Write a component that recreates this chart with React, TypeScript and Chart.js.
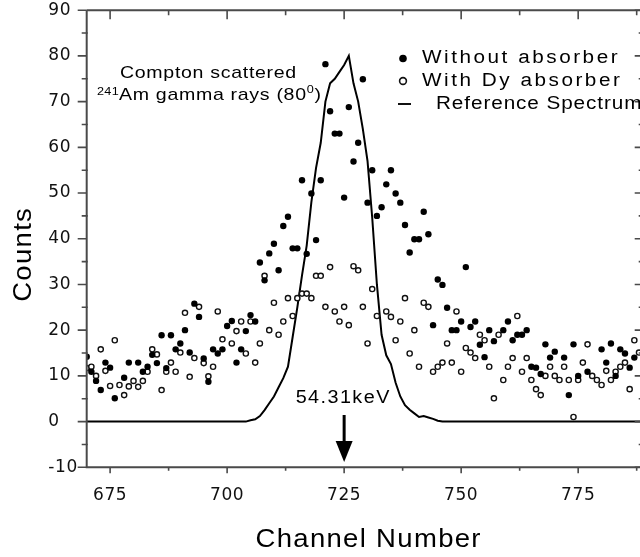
import React, { useEffect, useRef } from 'react';
import { Chart, registerables } from 'chart.js';

Chart.register(...registerables);

// ---- data ----
const withoutChannels = [670, 671, 672, 673, 674, 675, 676, 678, 679, 681, 682, 683, 684, 685, 686, 687, 688, 689, 690, 691, 692, 693, 694, 695, 696, 697, 698, 699, 700, 701, 702, 703, 704, 705, 706, 707, 708, 709, 710, 711, 712, 713, 714, 715, 716, 717, 718, 719, 720, 721, 722, 723, 724, 725, 726, 727, 728, 729, 730, 731, 732, 733, 734, 735, 736, 737, 738, 739, 740, 741, 742, 743, 744, 745, 746, 747, 748, 749, 750, 751, 752, 753, 754, 755, 756, 757, 759, 760, 761, 762, 763, 764, 765, 766, 767, 768, 769, 770, 772, 773, 774, 775, 777, 780, 781, 782, 783, 784, 785, 786, 787];
const withoutCounts = [14.2, 10.9, 8.9, 6.9, 12.9, 11.8, 5.1, 9.6, 12.9, 12.9, 10.9, 12.0, 14.6, 12.8, 18.9, 11.7, 18.9, 15.8, 17.1, 20.0, 15.1, 25.8, 22.9, 13.8, 8.7, 15.8, 14.9, 15.8, 20.9, 22.0, 12.9, 15.8, 19.8, 23.3, 21.9, 34.8, 30.9, 36.8, 38.9, 33.1, 42.8, 44.8, 37.9, 37.9, 52.8, 36.7, 49.9, 39.7, 52.8, 78.2, 67.9, 63.0, 63.0, 49.0, 68.8, 56.9, 61.0, 74.9, 47.9, 55.0, 45.0, 46.9, 51.9, 55.0, 49.9, 47.9, 43.0, 37.0, 39.9, 39.9, 45.9, 41.0, 21.1, 31.1, 29.9, 24.9, 20.0, 20.0, 21.9, 33.8, 20.7, 21.9, 16.8, 14.1, 20.0, 17.6, 20.0, 21.9, 17.8, 19.0, 19.0, 20.0, 12.0, 11.8, 10.4, 16.9, 14.0, 15.3, 14.0, 5.8, 16.9, 10.0, 10.9, 15.8, 12.9, 17.1, 10.0, 15.8, 14.9, 11.8, 14.0];

const withDyChannels = [670, 671, 672, 673, 674, 675, 676, 677, 678, 679, 680, 681, 682, 683, 684, 685, 686, 687, 688, 689, 690, 691, 692, 693, 694, 695, 696, 697, 698, 699, 701, 702, 703, 704, 705, 706, 707, 708, 709, 710, 711, 712, 713, 714, 715, 716, 717, 718, 719, 720, 721, 722, 723, 724, 725, 726, 727, 728, 729, 730, 731, 732, 734, 735, 736, 737, 738, 739, 740, 741, 742, 743, 744, 745, 746, 747, 748, 749, 750, 751, 752, 753, 754, 755, 756, 757, 758, 759, 760, 761, 762, 763, 764, 765, 766, 767, 768, 769, 770, 771, 772, 773, 774, 775, 776, 777, 778, 779, 780, 781, 782, 783, 784, 785, 786, 787, 788];
const withDyCounts = [11.7, 12.0, 10.0, 15.8, 11.1, 7.8, 17.8, 8.0, 5.8, 7.7, 8.9, 7.6, 8.9, 10.9, 15.8, 14.7, 6.9, 10.9, 12.9, 10.9, 15.1, 23.8, 9.8, 13.9, 25.1, 12.8, 9.9, 12.0, 24.1, 18.0, 17.1, 19.8, 21.9, 14.9, 21.9, 12.9, 17.1, 31.9, 20.0, 26.0, 19.0, 21.9, 27.0, 23.1, 27.0, 28.0, 28.0, 27.0, 31.9, 31.9, 25.1, 33.8, 24.1, 21.9, 25.1, 21.1, 34.0, 33.1, 25.1, 17.1, 29.0, 23.1, 24.1, 22.9, 17.8, 21.9, 27.0, 14.9, 20.0, 12.0, 26.0, 25.1, 10.9, 12.0, 12.9, 17.1, 12.9, 24.1, 10.9, 16.1, 15.1, 13.9, 19.0, 17.8, 12.0, 5.1, 19.0, 9.1, 12.0, 13.9, 23.1, 10.9, 13.9, 9.1, 7.1, 5.8, 10.0, 12.0, 10.0, 9.1, 12.0, 9.1, 1.0, 9.1, 12.9, 16.9, 10.0, 9.1, 8.0, 11.1, 9.1, 10.9, 12.0, 12.9, 7.1, 17.8, 15.1];

const refChannels = [670, 690, 704, 705, 706, 707, 708, 709, 710, 711, 712, 713, 714, 715, 716, 717, 718, 719, 720, 721, 722, 723, 724, 725, 726, 727, 728, 729, 730, 731, 732, 733, 734, 735, 736, 737, 738, 739, 740, 741, 742, 743, 744, 745, 746, 789];
const refCounts = [0, 0, 0, 0.3, 0.5, 1.2, 2.5, 4.0, 5.5, 7.5, 9.5, 12.0, 18.5, 25.0, 32.0, 38.5, 48.0, 55.5, 61.0, 70.0, 74.0, 75.0, 76.5, 78.0, 80.0, 74.0, 70.0, 64.0, 57.0, 44.6, 30.0, 19.0, 14.5, 12.6, 8.5, 5.5, 3.6, 2.6, 1.8, 1.0, 1.2, 0.9, 0.6, 0.2, 0, 0];

const xTickValues = [675, 700, 725, 750, 775];
const xMinorTickValues = [687.5, 712.5, 737.5, 762.5, 787.5];
const yTickValues = [-10, 0, 10, 20, 30, 40, 50, 60, 70, 80, 90];
const yMinorTickValues = [-5, 5, 15, 25, 35, 45, 55, 65, 75, 85];

const legendLabels = ['Without absorber', 'With Dy absorber', 'Reference Spectrum'];
const peakLabel = '54.31keV';
const peakChannel = 725;
const xTitle = 'Channel Number';
const yTitle = 'Counts';

const FONT = "'Liberation Sans', Arial, sans-serif";
const TICK_FONT = "'DejaVu Sans', 'Liberation Sans', sans-serif";

// draws horizontally stretched text; returns advance width in canvas pixels
function drawText(ctx: any, s: string, x: number, y: number, size: number, sx: number, ls: number, align: string = 'left') {
  ctx.save();
  ctx.font = `${size}px ${FONT}`;
  ctx.letterSpacing = `${ls}px`;
  ctx.textAlign = align;
  ctx.textBaseline = 'middle';
  ctx.fillStyle = '#000';
  const w = ctx.measureText(s).width;
  ctx.translate(x, y);
  ctx.scale(sx, 1);
  ctx.fillText(s, align === 'center' ? ls / 2 : 0, 0);
  ctx.restore();
  return w * sx;
}

const decorPlugin = {
  id: 'decor',
  beforeDraw(chart: any) {
    chart.ctx.letterSpacing = '0.6px';
  },
  afterDraw(chart: any) {
    const { ctx, chartArea } = chart;
    const xs = chart.scales.x;
    const ys = chart.scales.y;
    const { left, right, top, bottom } = chartArea;
    ctx.save();
    ctx.letterSpacing = '0px';
    // frame
    ctx.strokeStyle = '#4a4a4a';
    ctx.lineWidth = 2;
    ctx.beginPath();
    ctx.moveTo(left, top); ctx.lineTo(right, top);
    ctx.moveTo(left, top); ctx.lineTo(left, bottom);
    ctx.moveTo(left - 1, bottom); ctx.lineTo(right, bottom);
    ctx.moveTo(right, top); ctx.lineTo(right, bottom);
    ctx.stroke();
    // ticks
    ctx.lineWidth = 1.6;
    ctx.beginPath();
    xTickValues.forEach((v) => {
      const px = xs.getPixelForValue(v);
      ctx.moveTo(px, bottom); ctx.lineTo(px, bottom + 6);
      ctx.moveTo(px, top); ctx.lineTo(px, top + 9);
    });
    xMinorTickValues.forEach((v) => {
      const px = xs.getPixelForValue(v);
      ctx.moveTo(px, bottom); ctx.lineTo(px, bottom + 3.5);
      ctx.moveTo(px, top); ctx.lineTo(px, top + 5);
    });
    yTickValues.forEach((v) => {
      const py = ys.getPixelForValue(v);
      ctx.moveTo(left - 9, py); ctx.lineTo(left, py);
      ctx.moveTo(right - 9, py); ctx.lineTo(right, py);
    });
    yMinorTickValues.forEach((v) => {
      const py = ys.getPixelForValue(v);
      ctx.moveTo(left - 5, py); ctx.lineTo(left + 1, py);
      ctx.moveTo(right - 5, py); ctx.lineTo(right, py);
    });
    ctx.stroke();

    // annotation text
    drawText(ctx, 'Compton scattered', 120, 73, 17, 1.15, 0.6);
    drawText(ctx, '241', 97, 92, 11.5, 1.1, 0.3);
    let cx = 119;
    cx += drawText(ctx, 'Am gamma rays (80', cx, 95.5, 17, 1.15, 0.6);
    cx += drawText(ctx, '0', cx, 90, 11.5, 1.1, 0.3);
    drawText(ctx, ')', cx + 0.5, 95.5, 17, 1.15, 0.6);

    // legend
    ctx.fillStyle = '#000';
    ctx.beginPath();
    ctx.arc(403, 58.5, 3.8, 0, Math.PI * 2);
    ctx.fill();
    drawText(ctx, legendLabels[0], 422, 58.5, 18, 1.15, 2.2);
    ctx.strokeStyle = '#111';
    ctx.lineWidth = 1.6;
    ctx.beginPath();
    ctx.arc(403, 81, 3.4, 0, Math.PI * 2);
    ctx.stroke();
    drawText(ctx, legendLabels[1], 422, 81.5, 18, 1.15, 2.2);
    ctx.lineWidth = 2;
    ctx.beginPath();
    ctx.moveTo(398, 104); ctx.lineTo(411, 104);
    ctx.stroke();
    drawText(ctx, legendLabels[2], 436, 104.5, 18, 1.15, 0.8);

    // peak marker
    const ax = xs.getPixelForValue(peakChannel);
    drawText(ctx, peakLabel, 342.5, 398, 18, 1.1, 1.3, 'center');
    ctx.strokeStyle = '#000';
    ctx.lineWidth = 3;
    ctx.beginPath();
    ctx.moveTo(ax, 415); ctx.lineTo(ax, 446);
    ctx.stroke();
    ctx.fillStyle = '#000';
    ctx.beginPath();
    ctx.moveTo(ax - 8.5, 441); ctx.lineTo(ax + 8.5, 441); ctx.lineTo(ax, 462);
    ctx.closePath();
    ctx.fill();

    // axis titles
    drawText(ctx, xTitle, 368, 540, 25, 1.1, 1.2, 'center');
    ctx.save();
    ctx.translate(24, 255);
    ctx.rotate(-Math.PI / 2);
    drawText(ctx, yTitle, 0, 0, 25, 1.1, 1.2, 'center');
    ctx.restore();
    ctx.restore();
  },
};

export default function App() {
  const ref = useRef<HTMLCanvasElement | null>(null);
  useEffect(() => {
    if (!ref.current) return;
    const chart = new Chart(ref.current, {
      type: 'scatter',
      data: {
        datasets: [
          {
            label: legendLabels[0],
            data: withoutChannels.map((c, i) => ({ x: c, y: withoutCounts[i] })),
            pointRadius: 3.2,
            pointHoverRadius: 3.2,
            backgroundColor: '#000',
            borderColor: '#000',
            borderWidth: 0,
            order: 1,
          },
          {
            label: legendLabels[1],
            data: withDyChannels.map((c, i) => ({ x: c, y: withDyCounts[i] })),
            pointRadius: 2.6,
            pointHoverRadius: 2.6,
            backgroundColor: '#fff',
            borderColor: '#111',
            borderWidth: 1.4,
            order: 2,
          },
          {
            label: legendLabels[2],
            data: refChannels.map((c, i) => ({ x: c, y: refCounts[i] })),
            showLine: true,
            pointRadius: 0,
            borderColor: '#000',
            borderWidth: 2,
            tension: 0,
            order: 3,
          } as any,
        ],
      },
      options: {
        responsive: false,
        animation: false,
        events: [],
        layout: { padding: { left: 48.3, top: 9.6, right: 16.3, bottom: 0 } },
        plugins: { legend: { display: false }, tooltip: { enabled: false } },
        scales: {
          x: {
            type: 'linear',
            min: 670,
            max: 789,
            grid: { display: false },
            border: { display: false },
            afterBuildTicks: (s: any) => { s.ticks = xTickValues.map((v) => ({ value: v })); },
            afterFit: (s: any) => { s.height = 89.7; },
            ticks: {
              autoSkip: false,
              maxRotation: 0,
              padding: 10.5,
              color: '#111',
              font: { family: TICK_FONT, size: 17 },
            },
          },
          y: {
            type: 'linear',
            min: -10,
            max: 90,
            grid: { display: false },
            border: { display: false },
            afterBuildTicks: (s: any) => { s.ticks = yTickValues.map((v) => ({ value: v })); },
            afterFit: (s: any) => { s.width = 38.4; },
            ticks: {
              autoSkip: false,
              crossAlign: 'far',
              padding: 0,
              color: '#111',
              font: { family: TICK_FONT, size: 17 },
            },
          },
        },
      } as any,
      plugins: [decorPlugin],
    });
    return () => chart.destroy();
  }, []);

  return (
    <div style={{ position: 'fixed', left: 0, top: 0, width: 640, height: 557, overflow: 'hidden', background: '#fff' }}>
      <canvas ref={ref} width={660} height={557} style={{ width: 660, height: 557, display: 'block' }} />
    </div>
  );
}
